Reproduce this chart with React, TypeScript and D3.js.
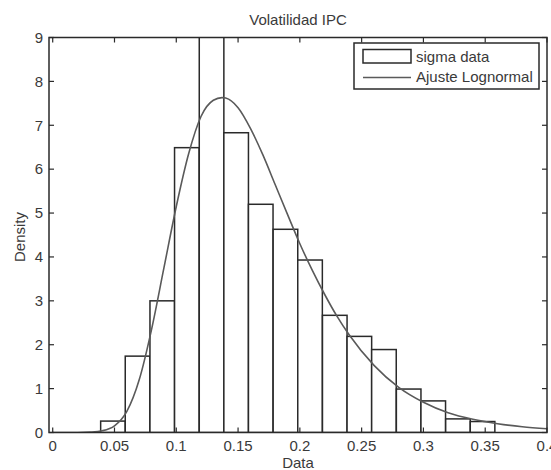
import React from "react";
import * as d3 from "d3";

// Histogram bins (left edges), bin width and density heights
const binEdges = [0.0388, 0.0587, 0.0787, 0.0986, 0.1186, 0.1385, 0.1584, 0.1784, 0.1983, 0.2183, 0.2382, 0.2581, 0.2781, 0.2980, 0.3180, 0.3379, 0.3578];
const binDensity = [0.26, 1.74, 3.0, 6.49, 10.5, 6.83, 5.2, 4.63, 3.93, 2.67, 2.19, 1.89, 0.99, 0.72, 0.31, 0.25];

// Lognormal fit curve
const fitX = [0, 0.02, 0.03, 0.04, 0.05, 0.06, 0.07, 0.08, 0.09, 0.10, 0.11, 0.12, 0.13, 0.137, 0.14, 0.15, 0.16, 0.17, 0.18, 0.19, 0.20, 0.21, 0.22, 0.23, 0.24, 0.26, 0.28, 0.30, 0.32, 0.34, 0.36, 0.38, 0.40];
const fitY = [0, 0, 0.01, 0.04, 0.15, 0.48, 1.2, 2.35, 3.75, 5.15, 6.35, 7.2, 7.57, 7.63, 7.62, 7.4, 6.93, 6.33, 5.65, 4.97, 4.3, 3.7, 3.15, 2.65, 2.22, 1.53, 1.03, 0.69, 0.45, 0.30, 0.20, 0.13, 0.085];

const xTicks = [0, 0.05, 0.1, 0.15, 0.2, 0.25, 0.3, 0.35, 0.4];
const xTickLabels = ["0", "0.05", "0.1", "0.15", "0.2", "0.25", "0.3", "0.35", "0.4"];
const yTicks = [0, 1, 2, 3, 4, 5, 6, 7, 8, 9];

const title = "Volatilidad IPC";
const xLabel = "Data";
const yLabel = "Density";
const legendLabels = ["sigma data", "Ajuste Lognormal"];

export default function App() {
  const W = 551, H = 470;
  const L = 49, R = 547, T = 37.5, B = 432.5;
  const x = d3.scaleLinear().domain([-0.003, 0.4]).range([L, R]);
  const y = d3.scaleLinear().domain([0, 9]).range([B, T]);
  const binW = binEdges[1] - binEdges[0];
  const line = d3.line<number>().x((_, i) => x(fitX[i])).y((d) => y(d)).curve(d3.curveMonotoneX);
  const font = "'Liberation Sans', Arial, sans-serif";
  const stroke = "#2a2a2a";
  const textFill = "#3a3a3a";
  const fs = 15;
  const tl = 5;
  return (
    <svg width={W} height={H} style={{ position: "absolute", left: 0, top: 0, background: "#fff" }} fontFamily={font}>
      <defs>
        <clipPath id="plotclip">
          <rect x={L} y={T} width={R - L} height={B - T} />
        </clipPath>
      </defs>
      <rect x={0} y={0} width={W} height={H} fill="#fff" />
      <g clipPath="url(#plotclip)">
        {binDensity.map((d, i) => (
          <rect key={i} x={x(binEdges[i])} y={y(d)} width={x(binEdges[i] + binW) - x(binEdges[i])} height={B - y(d)} fill="#fff" stroke={stroke} strokeWidth={1.5} />
        ))}
        <path d={line(fitY) || ""} fill="none" stroke="#5a5a5a" strokeWidth={1.6} />
      </g>
      {/* axes box */}
      <rect x={L} y={T} width={R - L} height={B - T} fill="none" stroke={stroke} strokeWidth={1.5} />
      {xTicks.map((t, i) => (
        <g key={"xt" + i}>
          <line x1={x(t)} x2={x(t)} y1={B} y2={B - tl} stroke={stroke} strokeWidth={1.2} />
          <line x1={x(t)} x2={x(t)} y1={T} y2={T + tl} stroke={stroke} strokeWidth={1.2} />
          <text x={x(t)} y={451} textAnchor="middle" fontSize={fs} fill={textFill}>{xTickLabels[i]}</text>
        </g>
      ))}
      {yTicks.map((t, i) => (
        <g key={"yt" + i}>
          <line x1={L} x2={L + tl} y1={y(t)} y2={y(t)} stroke={stroke} strokeWidth={1.2} />
          <line x1={R} x2={R - tl} y1={y(t)} y2={y(t)} stroke={stroke} strokeWidth={1.2} />
          <text x={43} y={y(t) + 5.3} textAnchor="end" fontSize={fs} fill={textFill}>{t}</text>
        </g>
      ))}
      <text x={(L + R) / 2} y={25} textAnchor="middle" fontSize={fs} fill={textFill}>{title}</text>
      <text x={(L + R) / 2} y={468} textAnchor="middle" fontSize={fs} fill={textFill}>{xLabel}</text>
      <text transform={`translate(25,${(T + B) / 2 + 2}) rotate(-90)`} textAnchor="middle" fontSize={fs} fill={textFill}>{yLabel}</text>
      {/* legend */}
      <rect x={354} y={43} width={185} height={46} fill="#fff" stroke={stroke} strokeWidth={1.5} />
      <rect x={363} y={49.5} width={48} height={13.5} fill="#fff" stroke={stroke} strokeWidth={1.5} />
      <text x={416} y={61.5} fontSize={fs} fill={textFill}>{legendLabels[0]}</text>
      <line x1={363} x2={411} y1={77.5} y2={77.5} stroke="#5a5a5a" strokeWidth={1.6} />
      <text x={416} y={82} fontSize={fs} fill={textFill}>{legendLabels[1]}</text>
    </svg>
  );
}
